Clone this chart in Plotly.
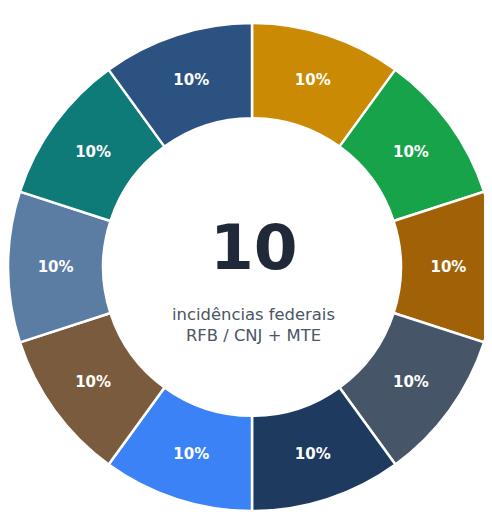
import plotly.graph_objects as go

labels = ["Incidência 1", "Incidência 2", "Incidência 3", "Incidência 4", "Incidência 5",
          "Incidência 6", "Incidência 7", "Incidência 8", "Incidência 9", "Incidência 10"]
values = [10, 10, 10, 10, 10, 10, 10, 10, 10, 10]
colors = ["#CA8A04", "#16A34A", "#A16207", "#475569", "#1E3A5F",
          "#3B82F6", "#7B5B3E", "#5B7CA3", "#0F7B78", "#2C5282"]
center_value = "10"
center_sub = ["incidências federais", "RFB / CNJ + MTE"]

fig = go.Figure(go.Pie(
    labels=labels, values=values, hole=0.61, sort=False, direction="clockwise",
    rotation=0,
    marker=dict(colors=colors, line=dict(color="white", width=2.5)),
    textinfo="percent", textposition="inside", insidetextorientation="horizontal",
    textfont=dict(family="DejaVu Sans", size=15, color="white", weight="bold"),
    domain=dict(x=[0.0, 0.9919], y=[0.0491, 0.9716]),
    showlegend=False,
))

fig.add_annotation(x=0.499, y=0.547, xref="paper", yref="paper", text="<b>" + center_value + "</b>",
                   showarrow=False, font=dict(family="DejaVu Sans", size=63, color="#1F2937"))
fig.add_annotation(x=0.498, y=0.401, xref="paper", yref="paper", text="<br>".join(center_sub),
                   showarrow=False, font=dict(family="DejaVu Sans", size=16.4, color="#4B5563"))

fig.update_layout(width=492, height=529, margin=dict(l=0, r=0, t=0, b=0),
                  paper_bgcolor="white", plot_bgcolor="white")
fig.write_html("out.html")
